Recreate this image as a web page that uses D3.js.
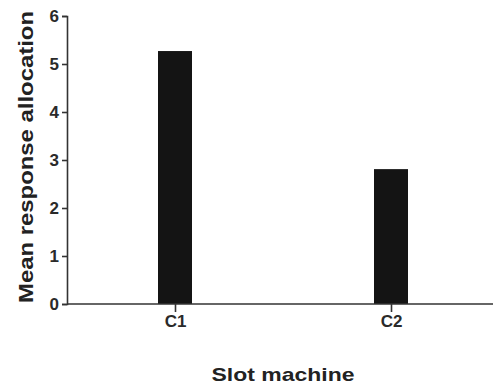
<!DOCTYPE html>
<html>
<head>
<meta charset="utf-8">
<script src="https://cdn.jsdelivr.net/npm/d3@7"></script>
<style>
  body { margin: 0; background: #fff; }
  svg { display: block; font-family: "Liberation Sans", Arial, sans-serif; }
</style>
</head>
<body>
<div id="chart"></div>
<script>
  var width = 493;
  var height = 386;

  // data
  var machines = ["C1", "C2"];
  var allocation = [5.27, 2.81];
  var yTicks = [0, 1, 2, 3, 4, 5, 6];

  var svg = d3.select("#chart")
              .append("svg")
              .attr("width", width)
              .attr("height", height);

  var xScale = d3.scalePoint()
    .domain(machines)
    .range([67, 499])
    .padding(0.5);

  var yScale = d3.scaleLinear()
    .domain([0, 6])
    .range([304, 16]);

  var barWidth = 34;

  // bars
  svg.append("g").selectAll("rect")
    .data(machines)
    .enter()
    .append("rect")
    .attr("x", function(d) { return xScale(d) - barWidth / 2; })
    .attr("y", function(d, i) { return yScale(allocation[i]); })
    .attr("width", barWidth)
    .attr("height", function(d, i) { return yScale(0) - yScale(allocation[i]); })
    .attr("fill", "#141414");

  // x axis
  var axisx = d3.axisBottom(xScale).tickSizeOuter(0).tickSize(8).tickPadding(3);
  var gx = svg.append("g")
    .attr("transform", "translate(0," + yScale(0) + ")")
    .call(axisx);
  gx.select(".domain").attr("d", "M67,0H493");

  // y axis
  var axisy = d3.axisLeft(yScale).tickValues(yTicks).tickFormat(d3.format("d"))
                .tickSizeOuter(5).tickSize(5).tickPadding(3);
  var gy = svg.append("g")
    .attr("transform", "translate(67,0)")
    .call(axisy);

  svg.selectAll(".domain, .tick line")
    .attr("stroke", "#333")
    .attr("stroke-width", 1.6);

  svg.selectAll(".tick text")
    .attr("font-size", "17px")
    .attr("font-weight", "bold")
    .attr("fill", "#2a2a2a")
    .attr("font-family", "'Liberation Sans', Arial, sans-serif");

  // axis titles
  svg.append("text")
    .attr("x", 283)
    .attr("y", 381)
    .attr("text-anchor", "middle")
    .attr("font-size", "19px")
    .attr("font-weight", "bold")
    .attr("fill", "#222")
    .attr("textLength", 143)
    .attr("lengthAdjust", "spacingAndGlyphs")
    .text("Slot machine");

  svg.append("text")
    .attr("transform", "translate(33,157) rotate(-90)")
    .attr("text-anchor", "middle")
    .attr("font-size", "20px")
    .attr("font-weight", "bold")
    .attr("fill", "#222")
    .attr("textLength", 292)
    .attr("lengthAdjust", "spacingAndGlyphs")
    .text("Mean response allocation");
</script>
</body>
</html>
